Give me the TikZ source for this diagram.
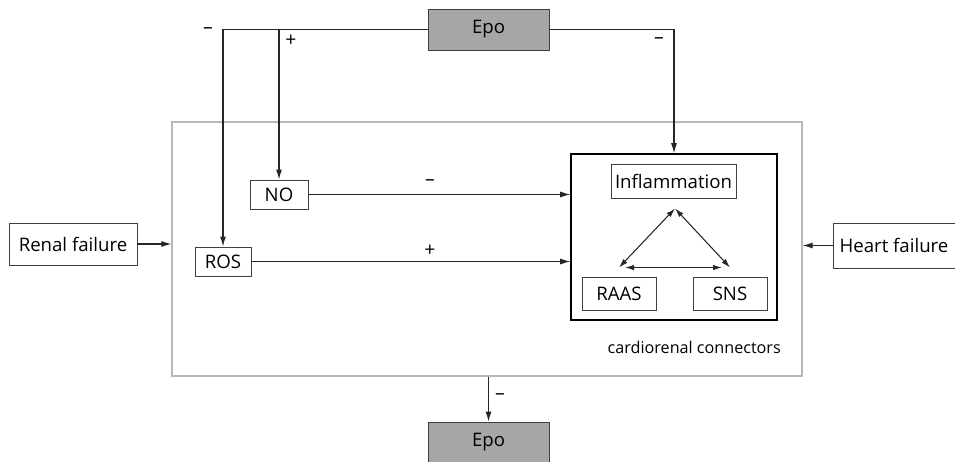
\documentclass[tikz,border=0pt]{standalone}
\usepackage{fontspec}
\setmainfont{Open Sans}
\usetikzlibrary{arrows.meta,positioning}

\begin{document}
\begin{tikzpicture}[x=0.02cm,y=-0.02cm,
  font=\fontsize{10.6}{12}\selectfont,
  box/.style={draw=black!75,line width=0.55pt,inner sep=0pt,align=center},
  epo/.style={box,fill=black!35,minimum width=2.42cm,minimum height=0.82cm},
  link/.style={-{Latex[length=2mm,width=1.2mm]},line width=0.6pt,black!85},
  both/.style={{Latex[length=1.8mm,width=1.1mm]}-{Latex[length=1.8mm,width=1.1mm]},line width=0.6pt,black!85},
  sign/.style={font=\fontsize{11}{12}\selectfont}
]
  \useasboundingbox (0,0) rectangle (955,462);
  % outer frame and the connector block
  \node[draw=black!28,line width=0.8pt,minimum width=12.6cm,minimum height=5.08cm] (outer) at (487,249) {};
  \node[draw=black,line width=0.9pt,minimum width=4.12cm,minimum height=3.32cm] (crc) at (674,237) {};
  \node[anchor=east,font=\fontsize{9.2}{10}\selectfont] (crclabel) at (787,347) {cardiorenal connectors};

  \node[epo] (epotop) at (488.5,29.5) {Epo};
  \node[epo] (epobot) at (488.5,442.5) {Epo};
  \node[box,minimum width=2.56cm,minimum height=0.84cm] (renal) at (73,244) {Renal failure};
  \node[box,minimum width=2.44cm,minimum height=0.9cm] (heart) at (894,245.5) {Heart failure};
  \node[box,minimum width=1.16cm,minimum height=0.58cm] (no) at (279,194.5) {NO};
  \node[box,minimum width=1.12cm,minimum height=0.58cm] (ros) at (223,261.5) {ROS};
  \node[box,minimum width=2.5cm,minimum height=0.68cm] (infl) at (673.5,181) {Inflammation};
  \node[box,minimum width=1.48cm,minimum height=0.66cm] (raas) at (619,293.5) {RAAS};
  \node[box,minimum width=1.48cm,minimum height=0.66cm] (sns) at (730,293.5) {SNS};

  \coordinate (apex) at ([xshift=0.03cm,yshift=-0.2cm]infl.south);
  \coordinate (raastop) at ([yshift=0.18cm]raas.north);
  \coordinate (snstop) at ([yshift=0.18cm]sns.north);

  \draw[link] (epotop.west) -| (ros.north);
  \draw[link] (epotop.west) -| (no.north);
  \draw[link] (epotop.east) -| (crc.north);
  \draw[link] (renal.east) -- (renal.east -| outer.west);
  \draw[link] (heart.west) -- (heart.west -| outer.east);
  \draw[link] (no.east) -- (no.east -| crc.west);
  \draw[link] (ros.east) -- (ros.east -| crc.west);
  \draw[link] (epobot.north |- outer.south) -- (epobot.north);
  \draw[both] (apex) -- (raastop);
  \draw[both] (apex) -- (snstop);
  \draw[both,shorten <=0.12cm,shorten >=0.16cm] (raastop) -- (snstop);

  \node[sign] (s1) at (208,31) {--};
  \node[sign] (s2) at (291,41) {+};
  \node[sign] (s3) at (659,41) {--};
  \node[sign] (s4) at (430,183) {--};
  \node[sign] (s5) at (430,251) {+};
  \node[sign] (s6) at (500,397) {--};
\end{tikzpicture}
\end{document}
